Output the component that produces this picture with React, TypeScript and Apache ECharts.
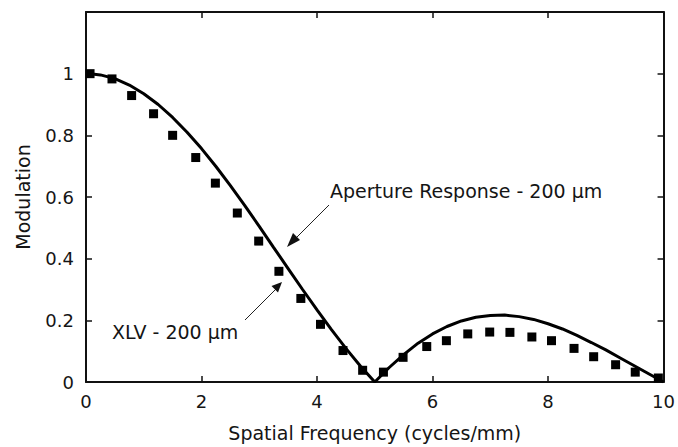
import React, { useEffect, useRef } from "react";
import * as echarts from "echarts";

const lineX = [0.07, 0.25, 0.5, 0.75, 1.0, 1.25, 1.5, 1.75, 2.0, 2.25, 2.5, 2.75, 3.0, 3.25, 3.5, 3.75, 4.0, 4.25, 4.5, 4.75, 5.0, 5.25, 5.5, 5.75, 6.0, 6.25, 6.5, 6.75, 7.0, 7.25, 7.5, 7.75, 8.0, 8.25, 8.5, 8.75, 9.0, 9.25, 9.5, 9.75, 10.0];
const lineY = [1.0, 0.996, 0.984, 0.963, 0.935, 0.9, 0.858, 0.81, 0.757, 0.699, 0.637, 0.572, 0.505, 0.436, 0.368, 0.3, 0.234, 0.17, 0.109, 0.052, 0.0, 0.047, 0.089, 0.126, 0.156, 0.18, 0.198, 0.21, 0.216, 0.217, 0.212, 0.203, 0.189, 0.172, 0.151, 0.128, 0.104, 0.078, 0.052, 0.026, 0.0];

const xlvX = [0.07, 0.45, 0.79, 1.17, 1.5, 1.9, 2.24, 2.62, 2.99, 3.34, 3.72, 4.06, 4.45, 4.79, 5.15, 5.49, 5.9, 6.24, 6.61, 6.99, 7.34, 7.72, 8.06, 8.45, 8.79, 9.17, 9.51, 9.91];
const xlvY = [1.0, 0.983, 0.929, 0.87, 0.8, 0.728, 0.645, 0.548, 0.457, 0.359, 0.271, 0.187, 0.102, 0.038, 0.032, 0.08, 0.115, 0.134, 0.156, 0.162, 0.161, 0.146, 0.134, 0.109, 0.082, 0.056, 0.032, 0.013];

const xTicks = [0, 2, 4, 6, 8, 10];
const yTicks = [0, 0.2, 0.4, 0.6, 0.8, 1];

const FONT = "DejaVu Sans";
const TXT = "#151515";

export default function App() {
  const ref = useRef<HTMLDivElement>(null);
  useEffect(() => {
    if (!ref.current) return;
    const chart = echarts.init(ref.current, null, { renderer: "svg" });
    const axisLine = { show: true, onZero: false, lineStyle: { color: "#111", width: 2 } };
    const tickIn = { show: true, inside: true, length: 6, lineStyle: { color: "#111", width: 1.5 } };
    chart.setOption({
      animation: false,
      backgroundColor: "#ffffff",
      grid: { left: 86, right: 12, top: 12, bottom: 63, containLabel: false },
      xAxis: [
        {
          type: "value",
          min: 0,
          max: 10,
          interval: 2,
          position: "bottom",
          name: "Spatial Frequency (cycles/mm)",
          nameLocation: "middle",
          nameGap: 41,
          nameTextStyle: { fontFamily: FONT, fontSize: 19, color: TXT },
          axisLine,
          axisTick: tickIn,
          splitLine: { show: false },
          axisLabel: {
            fontFamily: FONT,
            fontSize: 18,
            color: TXT,
            margin: 10,
            formatter: (v: number) => (xTicks.includes(v) ? String(v) : ""),
          },
        },
        {
          type: "value",
          min: 0,
          max: 10,
          interval: 2,
          position: "top",
          axisLine,
          axisTick: tickIn,
          axisLabel: { show: false },
          splitLine: { show: false },
        },
      ],
      yAxis: [
        {
          type: "value",
          min: 0,
          max: 1.2,
          interval: 0.2,
          position: "left",
          name: "Modulation",
          nameLocation: "middle",
          nameGap: 54,
          nameTextStyle: { fontFamily: FONT, fontSize: 19, color: TXT },
          axisLine,
          axisTick: tickIn,
          splitLine: { show: false },
          axisLabel: {
            fontFamily: FONT,
            fontSize: 18,
            color: TXT,
            margin: 12,
            formatter: (v: number) => {
              const r = Math.round(v * 10) / 10;
              return yTicks.some((t) => Math.abs(t - r) < 1e-9) ? String(r) : "";
            },
          },
        },
        {
          type: "value",
          min: 0,
          max: 1.2,
          interval: 0.2,
          position: "right",
          axisLine,
          axisTick: tickIn,
          axisLabel: { show: false },
          splitLine: { show: false },
        },
      ],
      series: [
        {
          type: "line",
          data: lineX.map((x, i) => [x, lineY[i]]),
          showSymbol: false,
          symbol: "none",
          lineStyle: { color: "#000", width: 3 },
          z: 2,
        },
        {
          type: "scatter",
          data: xlvX.map((x, i) => [x, xlvY[i]]),
          symbol: "rect",
          symbolSize: 9,
          itemStyle: { color: "#000", opacity: 1 },
          z: 3,
        },
      ],
      graphic: [
        {
          type: "text",
          x: 330,
          y: 191,
          style: { text: "Aperture Response - 200 µm", font: `19px "${FONT}"`, fill: TXT, verticalAlign: "middle", align: "left" },
        },
        {
          type: "line",
          shape: { x1: 329, y1: 205, x2: 296, y2: 238 },
          style: { stroke: "#222", lineWidth: 1 },
        },
        {
          type: "polygon",
          shape: { points: [[287, 247], [300, 240], [293, 233]] },
          style: { fill: "#111" },
        },
        {
          type: "text",
          x: 112,
          y: 332,
          style: { text: "XLV - 200 µm", font: `19px "${FONT}"`, fill: TXT, verticalAlign: "middle", align: "left" },
        },
        {
          type: "line",
          shape: { x1: 245, y1: 320, x2: 276, y2: 289 },
          style: { stroke: "#222", lineWidth: 1 },
        },
        {
          type: "polygon",
          shape: { points: [[282, 282], [278, 292.5], [271.5, 286]] },
          style: { fill: "#111" },
        },
      ],
    });
    return () => chart.dispose();
  }, []);
  return <div ref={ref} style={{ width: 678, height: 447, position: "absolute", left: 0, top: 0 }} />;
}
